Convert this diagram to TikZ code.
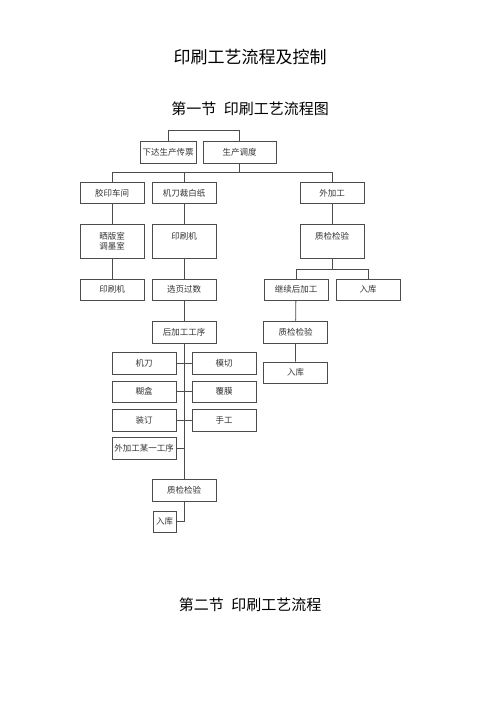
\documentclass[tikz,border=0pt]{standalone}
\usepackage{fontspec}
\setmainfont{Noto Sans CJK SC}
\usetikzlibrary{positioning}

\begin{document}
\begin{tikzpicture}[x=1pt,y=-1pt,
    stage/.style={rectangle, draw=black!70, line width=0.8pt, text=black!80,
    font=\fontsize{8.5}{10}\selectfont, minimum width=64pt, minimum height=21pt,
    inner sep=1pt},
    tallstage/.style={stage, minimum height=34pt, align=center},
    link/.style={draw=black!70, line width=0.8pt}]
    \useasboundingbox (0,0) rectangle (500,707);
    % titles
    \node[font=\fontsize{17}{20}\selectfont] (title) at (250,57) {印刷工艺流程及控制};
    \node[font=\fontsize{15}{18}\selectfont] (sec1) at (250,109) {第一节\hspace{0.5em}印刷工艺流程图};
    \node[font=\fontsize{15}{18}\selectfont] (sec2) at (250,605) {第二节\hspace{0.5em}印刷工艺流程};
    % top
    \node[stage, minimum width=56pt, minimum height=22pt] (ticket) at (168,152) {下达生产传票};
    \node[stage, minimum width=73pt, minimum height=22pt] (sched) at (239.5,152) {生产调度};
    % second row
    \node[stage] (jiaoyin) at (112,193) {胶印车间};
    \node[stage] (caizhi) at (184,193) {机刀裁白纸};
    \node[stage] (waijia) at (332,193) {外加工};
    % third row
    \node[tallstage] (shaiban) at (112,241) {晒版室\\调墨室};
    \node[tallstage] (press) at (184,241) {印刷机\\\mbox{}};
    \node[tallstage] (check) at (332,241) {质检检验\\\mbox{}};
    % fourth row
    \node[stage] (press2) at (112,289.5) {印刷机};
    \node[stage] (count) at (184,289.5) {选页过数};
    \node[stage] (further) at (296,289.5) {继续后加工};
    \node[stage] (store) at (368,289.5) {入库};
    % post processing
    \node[stage, minimum height=22pt] (post) at (184,332) {后加工工序};
    \node[stage, minimum height=22pt] (check2) at (295.5,332) {质检检验};
    \node[stage] (store2) at (295.5,372.5) {入库};
    \node[stage, minimum height=22pt] (knife) at (144,363) {机刀};
    \node[stage, minimum height=22pt] (diecut) at (224,363) {模切};
    \node[stage] (box) at (144,391.5) {糊盒};
    \node[stage] (film) at (224,391.5) {覆膜};
    \node[stage, minimum height=22pt] (bind) at (144,420) {装订};
    \node[stage, minimum height=22pt] (hand) at (224,420) {手工};
    \node[stage, minimum height=22pt] (outer) at (144,448) {外加工某一工序};
    \node[stage, minimum height=22pt] (check3) at (184,490) {质检检验};
    \node[stage, minimum width=23pt] (store3) at (164.5,521.5) {入库};
    % connectors
    \draw[link] (ticket.north) -- ++(0,10pt) -| (sched.north);
    \draw[link] (sched.south) -- ++(0,-9pt) coordinate (bus);
    \draw[link] (jiaoyin.north) |- (bus) -| (waijia.north);
    \draw[link] (caizhi.north) -- (caizhi.north |- bus);
    \draw[link] (jiaoyin) -- (shaiban) -- (press2);
    \draw[link] (caizhi) -- (press) -- (count) -- (post);
    \draw[link] (waijia) -- (check);
    \draw[link] (check.south) -- ++(0,-11pt) coordinate (bus2);
    \draw[link] (further.north) |- (bus2) -| (store.north);
    \draw[link] (further) -- (check2) -- (store2);
    \draw[link] (post.south) -- (check3.north);
    \draw[link] (knife.east) -- (diecut.west);
    \draw[link] (box.east) -- (film.west);
    \draw[link] (bind.east) -- (hand.west);
    \draw[link] (outer.east) -- (outer.east -| post.south);
    \draw[link] (check3.south) |- (store3.east);
\end{tikzpicture}
\end{document}
